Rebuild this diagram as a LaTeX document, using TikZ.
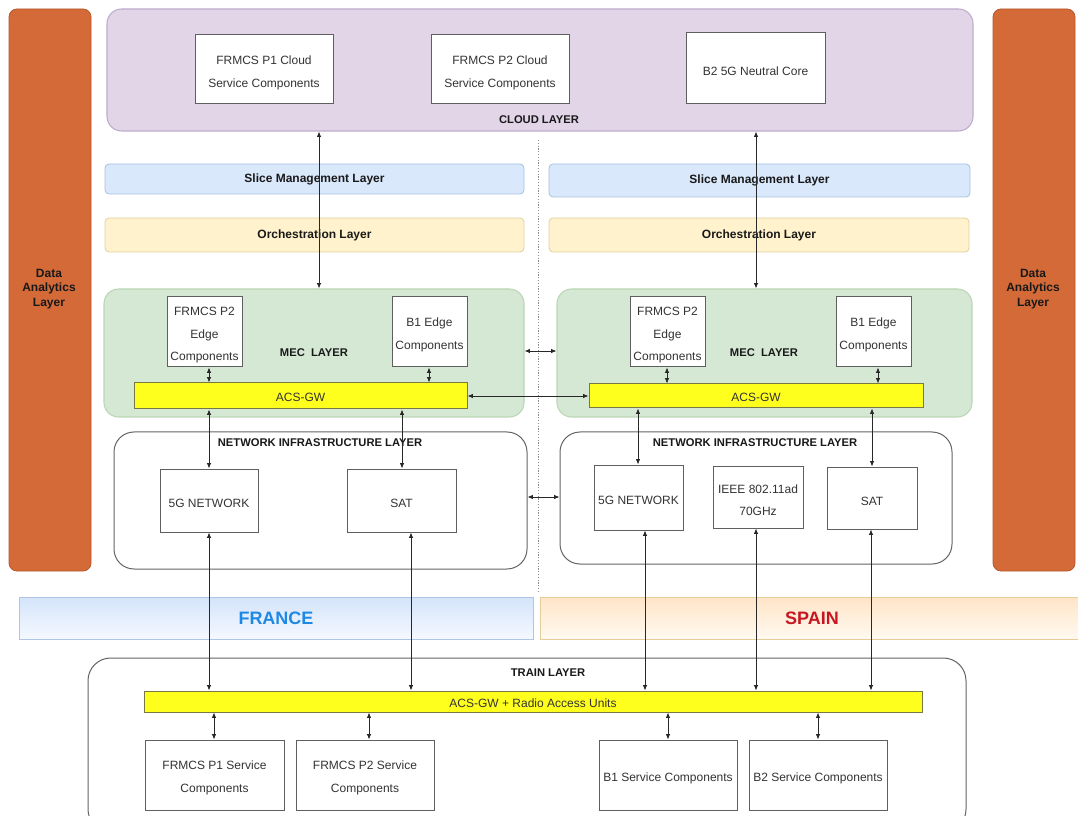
\documentclass[tikz,border=0pt]{standalone}
\usepackage{fontspec}
\setmainfont{Liberation Sans}
\usetikzlibrary{arrows.meta}
\definecolor{orangefill}{RGB}{211,106,56}
\definecolor{orangeline}{RGB}{185,88,42}
\definecolor{cloudfill}{RGB}{225,213,231}
\definecolor{cloudline}{RGB}{190,172,205}
\definecolor{slicefill}{RGB}{218,232,252}
\definecolor{sliceline}{RGB}{168,192,226}
\definecolor{orchfill}{RGB}{255,242,204}
\definecolor{orchline}{RGB}{226,208,156}
\definecolor{mecfill}{RGB}{213,232,212}
\definecolor{mecline}{RGB}{186,214,181}
\definecolor{boxline}{RGB}{95,95,95}
\definecolor{infraline}{RGB}{100,100,100}
\definecolor{gwfill}{RGB}{255,255,30}
\definecolor{gwline}{RGB}{120,120,70}
\definecolor{txt}{RGB}{51,51,51}
\definecolor{lbltxt}{RGB}{25,25,25}
\definecolor{francetxt}{RGB}{30,136,229}
\definecolor{spaintxt}{RGB}{200,22,32}
\definecolor{frtop}{RGB}{212,228,250}
\definecolor{frbot}{RGB}{245,249,255}
\definecolor{frline}{RGB}{175,198,230}
\definecolor{sptop}{RGB}{255,229,200}
\definecolor{spbot}{RGB}{255,249,240}
\definecolor{spline}{RGB}{228,205,150}
\definecolor{arrcol}{RGB}{40,40,40}
% plain box (text centred)
\newcommand{\bx}[7]{%
  \pgfmathsetmacro\bxw{(#5-#3)*0.75}%
  \pgfmathsetmacro\bxh{(#6-#4)*0.75}%
  \node[#2, minimum width=\bxw pt, minimum height=\bxh pt, inner sep=0pt] (#1) at ({(#3+#5)/2},{(#4+#6)/2}) {#7};}
% box whose text sits slightly below centre
\newcommand{\bxt}[7]{%
  \pgfmathsetmacro\bxw{(#5-#3)*0.75}%
  \pgfmathsetmacro\bxh{(#6-#4)*0.75}%
  \node[#2, minimum width=\bxw pt, minimum height=\bxh pt, inner sep=0pt,
        label={[#2text, name=#1t]center:{#7}}] (#1) at ({(#3+#5)/2},{(#4+#6)/2}) {};}
\tikzset{
  orangebar/.style={draw=orangeline, fill=orangefill, rounded corners=6pt, line width=0.6pt},
  cloudlayer/.style={draw=cloudline, fill=cloudfill, rounded corners=11pt, line width=0.8pt},
  slicebar/.style={draw=sliceline, fill=slicefill, rounded corners=3pt, line width=0.6pt, font=\bfseries\fontsize{9}{11}\selectfont, text=lbltxt},
  orchbar/.style={draw=orchline, fill=orchfill, rounded corners=3pt, line width=0.6pt, font=\bfseries\fontsize{9}{11}\selectfont, text=lbltxt},
  meclayer/.style={draw=mecline, fill=mecfill, rounded corners=11pt, line width=0.8pt},
  infralayer/.style={draw=infraline, fill=white, rounded corners=15pt, line width=0.75pt},
  trainlayer/.style={draw=infraline, fill=white, rounded corners=17pt, line width=0.75pt},
  compbox/.style={draw=boxline, fill=white, line width=0.75pt},
  compboxtext/.style={align=center, text=txt, font=\fontsize{9}{17}\selectfont, inner sep=0pt, yshift=-2.4pt},
  gwbar/.style={draw=gwline, fill=gwfill, line width=0.75pt},
  gwbartext/.style={text=txt, font=\fontsize{9}{11}\selectfont, inner sep=0pt, yshift=-1.3pt},
  lbl/.style={font=\bfseries\fontsize{8.4}{11}\selectfont, text=lbltxt, inner sep=0pt},
  dalbl/.style={font=\bfseries\fontsize{9}{11}\selectfont, text=lbltxt, align=center, inner sep=0pt},
  francebar/.style={draw=frline, top color=frtop, bottom color=frbot, line width=0.6pt, font=\bfseries\fontsize{13.5}{15}\selectfont, text=francetxt},
  spainbar/.style={draw=spline, top color=sptop, bottom color=spbot, line width=0.6pt},
  arr/.style={draw=arrcol, line width=0.6pt, {Latex[length=4pt,width=3.3pt]}-{Latex[length=4pt,width=3.3pt]}},
  divider/.style={draw=black!45, line width=0.6pt, dash pattern=on 0.9pt off 1.2pt}
}
\begin{document}
\begin{tikzpicture}[x=0.75pt,y=-0.75pt]
\useasboundingbox (0,0) rectangle (1078,816);
\clip (0,0) rectangle (1078,816);
\fill[white] (0,0) rectangle (1078,816);

% data analytics bars
\bx{dalL}{orangebar}{9}{9}{91}{571}{}
\node[dalbl] (dalLt) at (49,289) {Data\\Analytics\\Layer};
\bx{dalR}{orangebar}{993}{9}{1075}{571}{}
\node[dalbl] (dalRt) at (1033,289) {Data\\Analytics\\Layer};

% cloud layer
\bx{cloud}{cloudlayer}{107}{9}{973}{131}{}
\node[lbl] (cloudt) at (539,120) {CLOUD LAYER};
\bxt{p1c}{compbox}{195}{35}{333}{104}{FRMCS P1 Cloud\\Service Components}
\bxt{p2c}{compbox}{431}{35}{569}{104}{FRMCS P2 Cloud\\Service Components}
\bxt{b2core}{compbox}{686}{33}{825}{104}{B2 5G Neutral Core}

% divider
\coordinate (divtop) at (538,140);
\coordinate (divbot) at (538,592);
\draw[divider] (divtop) -- (divbot);

% slice / orchestration
\bx{sliceL}{slicebar}{105}{164}{524}{194}{Slice Management Layer}
\bx{sliceR}{slicebar}{549}{164}{970}{197}{Slice Management Layer}
\bx{orchL}{orchbar}{105}{218}{524}{252}{Orchestration Layer}
\bx{orchR}{orchbar}{549}{218}{969}{252}{Orchestration Layer}

% MEC layers
\bx{mecL}{meclayer}{104}{289}{524}{417}{}
\node[lbl] (mecLt) at (314,353) {MEC\ \ LAYER};
\bxt{p2eL}{compbox}{167}{297}{242}{367}{FRMCS P2\\Edge\\Components}
\bxt{b1eL}{compbox}{392}{297}{467}{367}{B1 Edge\\Components}
\bxt{acsL}{gwbar}{134}{383}{467}{409}{ACS-GW}

\bx{mecR}{meclayer}{557}{289}{972}{417}{}
\node[lbl] (mecRt) at (764,353) {MEC\ \ LAYER};
\bxt{p2eR}{compbox}{630}{297}{705}{367}{FRMCS P2\\Edge\\Components}
\bxt{b1eR}{compbox}{836}{297}{911}{367}{B1 Edge\\Components}
\bxt{acsR}{gwbar}{589}{384}{923}{408}{ACS-GW}

% network infrastructure layers
\bx{infraL}{infralayer}{114}{432}{527}{569}{}
\node[lbl] (infraLt) at (320,443) {NETWORK INFRASTRUCTURE LAYER};
\bxt{g5L}{compbox}{160}{469}{258}{532}{5G NETWORK}
\bxt{satL}{compbox}{347}{469}{456}{532}{SAT}

\bx{infraR}{infralayer}{560}{432}{952}{564}{}
\node[lbl] (infraRt) at (755,443) {NETWORK INFRASTRUCTURE LAYER};
\bxt{g5R}{compbox}{594}{465}{683}{530}{5G NETWORK}
\bxt{ieee}{compbox}{713}{466}{803}{528}{IEEE 802.11ad\\70GHz}
\bxt{satR}{compbox}{827}{467}{917}{529}{SAT}

% country banners
\bx{france}{francebar}{19}{597}{533}{639}{FRANCE}
\bx{spain}{spainbar}{540}{597}{1090}{639}{}
\node[font=\bfseries\fontsize{13.5}{15}\selectfont, text=spaintxt] (spaint) at (812,618) {SPAIN};

% train layer
\bx{train}{trainlayer}{88}{658}{966}{832}{}
\node[lbl] (traint) at (548,673) {TRAIN LAYER};
\bxt{acsT}{gwbar}{144}{691}{922}{712}{ACS-GW + Radio Access Units}
\bxt{p1s}{compbox}{145}{740}{284}{810}{FRMCS P1 Service\\Components}
\bxt{p2s}{compbox}{296}{740}{434}{810}{FRMCS P2 Service\\Components}
\bxt{b1s}{compbox}{599}{740}{737}{810}{B1 Service Components}
\bxt{b2s}{compbox}{749}{740}{887}{810}{B2 Service Components}

% connectors
\draw[arr] (319,0 |- cloud.south) -- (319,0 |- mecL.north);
\draw[arr] (756,0 |- cloud.south) -- (756,0 |- mecR.north);

\draw[arr] (209,0 |- p2eL.south) -- (209,0 |- acsL.north);
\draw[arr] (429,0 |- b1eL.south) -- (429,0 |- acsL.north);
\draw[arr] (209,0 |- acsL.south) -- (209,0 |- g5L.north);
\draw[arr] (402,0 |- acsL.south) -- (402,0 |- satL.north);

\draw[arr] (667,0 |- p2eR.south) -- (667,0 |- acsR.north);
\draw[arr] (878,0 |- b1eR.south) -- (878,0 |- acsR.north);
\draw[arr] (638,0 |- acsR.south) -- (638,0 |- g5R.north);
\draw[arr] (872,0 |- acsR.south) -- (872,0 |- satR.north);

\draw[arr] (mecL.east |- 0,351) -- (mecR.west |- 0,351);
\draw[arr] (acsL.east) -- (acsR.west);
\draw[arr] (infraL.east |- 0,497) -- (infraR.west |- 0,497);

\draw[arr] (209,0 |- g5L.south) -- (209,0 |- acsT.north);
\draw[arr] (411,0 |- satL.south) -- (411,0 |- acsT.north);
\draw[arr] (645,0 |- g5R.south) -- (645,0 |- acsT.north);
\draw[arr] (756,0 |- ieee.south) -- (756,0 |- acsT.north);
\draw[arr] (871,0 |- satR.south) -- (871,0 |- acsT.north);

\draw[arr] (214,0 |- acsT.south) -- (214,0 |- p1s.north);
\draw[arr] (369,0 |- acsT.south) -- (369,0 |- p2s.north);
\draw[arr] (668,0 |- acsT.south) -- (668,0 |- b1s.north);
\draw[arr] (818,0 |- acsT.south) -- (818,0 |- b2s.north);
\end{tikzpicture}
\end{document}
